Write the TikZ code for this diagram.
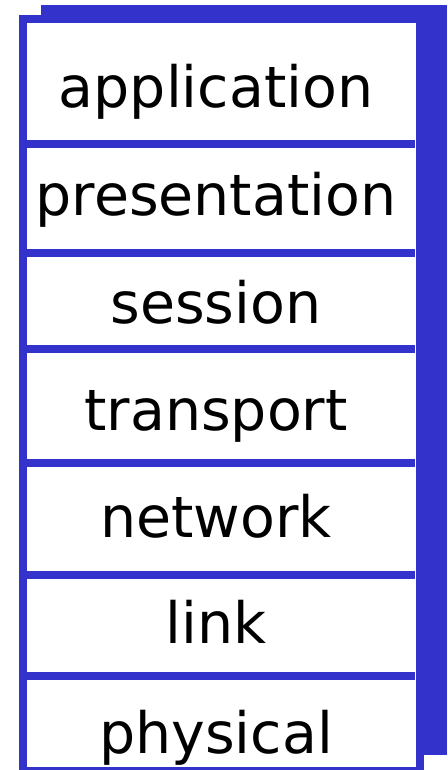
\documentclass[tikz,border=0pt]{standalone}
\usepackage{fontspec}
\setmainfont{DejaVu Sans}
\definecolor{osiblue}{RGB}{51,51,204}
\begin{document}
\begin{tikzpicture}[x=1pt, y=-1pt,
    layer/.style={anchor=base, inner sep=0pt, font=\fontsize{57}{57}\selectfont},
    divider/.style={osiblue, line width=7.5pt}]
    \useasboundingbox (0,0) rectangle (447,770);
    \clip (0,0) rectangle (447,770);
    % shadow and frame
    \fill[osiblue] (41,5) rectangle (447,755);
    \draw[osiblue, line width=8pt, fill=white] (23,19) rectangle (420,771);
    \foreach \y in {144,253,349,463,575,676}
        \draw[divider] (19,\y) -- (415,\y);
    % layers
    \node[layer] (app) at (216,108) {application};
    \node[layer] (pres) at (216,215) {presentation};
    \node[layer] (sess) at (216,323) {session};
    \node[layer] (trans) at (216,430) {transport};
    \node[layer] (net) at (216,537) {network};
    \node[layer] (link) at (216,643) {link};
    \node[layer] (phys) at (216,753) {physical};
\end{tikzpicture}
\end{document}
